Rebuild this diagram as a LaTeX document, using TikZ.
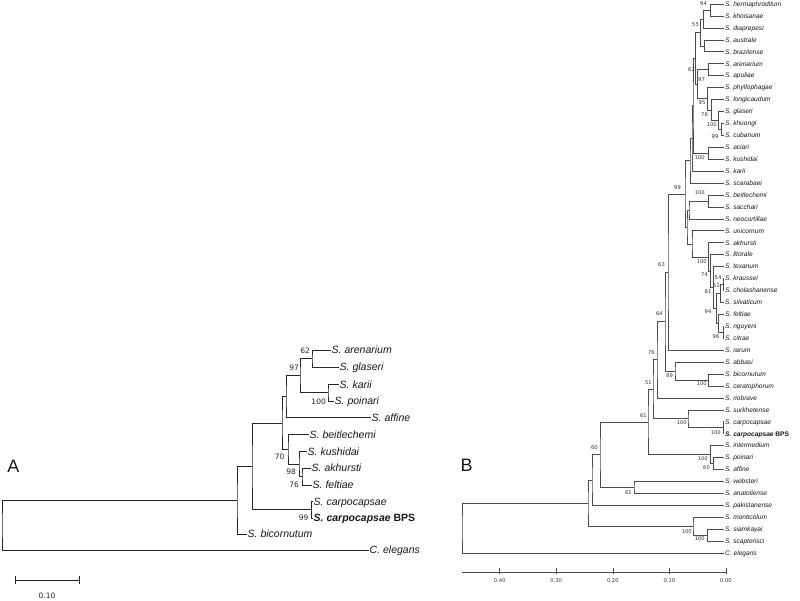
\documentclass[tikz,border=0pt]{standalone}
\usepackage{fontspec}
\setmainfont{Liberation Sans}
\newfontfamily\djv{DejaVu Sans}
\usetikzlibrary{calc}
\newcommand\clade[4]{%
  \coordinate (#1tmp) at ($(#3)!0.5!(#4)$);
  \coordinate (#1) at (#2,0 |- #1tmp);
  \draw[treeline] (#3) -| (#1) |- (#4);
}
\tikzset{
  alin/.style={line width=0.8pt, draw=black!85, line join=miter},
  blin/.style={line width=0.55pt, draw=black!70, line join=miter},
  alab/.style={font=\fontsize{10.5}{12}\selectfont\itshape, inner sep=1pt, anchor=west, text height=7.5pt, text depth=0pt, text=black!90},
  blab/.style={font=\fontsize{6.6}{8}\selectfont\itshape, inner sep=1pt, anchor=west, text height=4.7pt, text depth=0pt, text=black!90},
  asup/.style={font=\djv\fontsize{7.5}{9}\selectfont, inner sep=0pt, anchor=east, text=black!85},
  bsup/.style={font=\djv\fontsize{5.2}{6}\selectfont, inner sep=0pt, anchor=east, text=black!80},
  panel/.style={font=\fontsize{18}{20}\selectfont, inner sep=0pt, text=black!90}
}
\begin{document}
\begin{tikzpicture}[x=1pt,y=-1pt]
\fill[white] (0,0) rectangle (800,600);
\useasboundingbox (0,0) rectangle (800,600);

% ---------------- Panel A ----------------
\begin{scope}[treeline/.style={alin}]
\coordinate (Aar) at (330.5,350);   \node[alab] (tAar) at (Aar) {S. arenarium};
\coordinate (Agl) at (338.5,367);   \node[alab] (tAgl) at (Agl) {S. glaseri};
\coordinate (Aka) at (338.5,384.5); \node[alab] (tAka) at (Aka) {S. karii};
\coordinate (Apo) at (333.5,401);   \node[alab] (tApo) at (Apo) {S. poinari};
\coordinate (Aaf) at (370.5,417.5); \node[alab] (tAaf) at (Aaf) {S. affine};
\coordinate (Abe) at (308.5,434.5); \node[alab] (tAbe) at (Abe) {S. beitlechemi};
\coordinate (Aku) at (306.5,451.5); \node[alab] (tAku) at (Aku) {S. kushidai};
\coordinate (Aak) at (310.5,468);   \node[alab] (tAak) at (Aak) {S. akhursti};
\coordinate (Afe) at (311.5,485);   \node[alab] (tAfe) at (Afe) {S. feltiae};
\coordinate (Aca) at (312.5,501.5); \node[alab] (tAca) at (Aca) {S. carpocapsae};
\coordinate (Abp) at (312.5,518);   \node[alab] (tAbp) at (Abp) {\bfseries S. carpocapsae \upshape BPS};
\coordinate (Abi) at (246.5,534);   \node[alab] (tAbi) at (Abi) {S. bicornutum};
\coordinate (Ael) at (368.5,550);   \node[alab] (tAel) at (Ael) {C. elegans};

\clade{An62}{312}{Aar}{Agl}
\clade{An100}{328}{Aka}{Apo}
\clade{An97}{300}{An62}{An100}
\clade{AnAf}{286}{An97}{Aaf}
\clade{An76}{302}{Aak}{Afe}
\clade{An98}{299}{Aku}{An76}
\clade{An70}{288}{Abe}{An98}
\clade{AnBig}{282}{AnAf}{An70}
\clade{An99}{311.5}{Aca}{Abp}
\clade{AnCarp}{252}{AnBig}{An99}
\clade{AnIn}{237}{AnCarp}{Abi}
\clade{Aroot}{2}{AnIn}{Ael}
\end{scope}

\node[asup] (sA62)  at (310,351)   {62};
\node[asup] (sA97)  at (299,368)   {97};
\node[asup] (sA100) at (326,401.5) {100};
\node[asup] (sA70)  at (284.5,457) {70};
\node[asup] (sA98)  at (296,471.5) {98};
\node[asup] (sA76)  at (299,485)   {76};
\node[asup] (sA99)  at (308.5,518) {99};

\node[panel] (pA) at (13.5,466) {A};

\coordinate (sbL) at (15,580);
\coordinate (sbR) at (79,580);
\draw[alin] (sbL) -- (sbR);
\draw[alin] ([yshift=4pt]sbL) -- ([yshift=-4pt]sbL);
\draw[alin] ([yshift=4pt]sbR) -- ([yshift=-4pt]sbR);
\node[asup,anchor=center] (sbT) at (47,596) {0.10};

% ---------------- Panel B ----------------
\begin{scope}[treeline/.style={blin}]
\foreach \t [count=\i] in {S. hermaphroditum,S. khoisanae,S. diaprepesi,S. australe,S. brazilense,S. arenarium,S. apuliae,S. phyllophagae,S. longicaudum,S. glaseri,S. khuongi,S. cubanum,S. aciari,S. kushidai,S. karii,S. scarabaei,S. beitlechemi,S. sacchari,S. neocurtillae,S. unicornum,S. akhursti,S. litorale,S. texanum,S. kraussei,S. cholashanense,S. silvaticum,S. feltiae,S. nguyeni,S. citrae,S. rarum,S. abbasi,S. bicornutum,S. ceratophorum,S. riobrave,S. surkhetense,S. carpocapsae,{\bfseries S. carpocapsae \upshape BPS},S. intermedium,S. poinari,S. affine,S. websteri,S. anatoliense,S. pakistanense,S. monticolum,S. siamkayai,S. scapterisci,C. elegans}{
  \coordinate (B\i) at (724,{4+11.935*(\i-1)});
  \node[blab] (tB\i) at (B\i) {\t};
}
\clade{N94}{710}{B1}{B2}
\clade{N55}{703}{N94}{B3}
\clade{Naus}{704}{B4}{B5}
\clade{Na1}{700}{N55}{Naus}
\clade{N97}{708}{B6}{B7}
\clade{N99c}{721}{B11}{B12}
\clade{N100g}{718}{B10}{N99c}
\clade{N76b}{711}{B9}{N100g}
\clade{N95}{707}{B8}{N76b}
\clade{Nb1}{697}{N97}{N95}
\clade{N62}{695}{Na1}{Nb1}
\clade{Naci}{708}{B13}{B14}
\clade{Nc1}{693}{N62}{Naci}
\clade{Nc2}{692}{Nc1}{B15}
\clade{NCI}{690}{Nc2}{B16}
\clade{Nbs}{708}{B17}{B18}
\clade{Nbsn}{689}{Nbs}{B19}
\clade{Nk}{723}{B24}{B25}
\clade{Nks}{720}{Nk}{B26}
\clade{Nfn}{723}{B28}{B29}
\clade{Nf}{718}{B27}{Nfn}
\clade{N81}{716}{Nks}{Nf}
\clade{N74}{713}{B23}{N81}
\clade{Nlit}{710}{B22}{N74}
\clade{N100L}{708}{B21}{Nlit}
\clade{Nuni}{692}{B20}{N100L}
\clade{NCII}{687}{Nbsn}{Nuni}
\clade{N99}{685}{NCI}{NCII}
\clade{N63}{668}{N99}{B30}
\clade{Nbic}{708}{B32}{B33}
\clade{N89}{675}{B31}{Nbic}
\clade{N64}{665}{N63}{N89}
\clade{N76}{657}{N64}{B34}
\clade{Ncarp}{723}{B36}{B37}
\clade{Nsurk}{688}{B35}{Ncarp}
\clade{N51}{653}{N76}{Nsurk}
\clade{Npa}{713}{B39}{B40}
\clade{Ninter}{710}{B38}{Npa}
\clade{Nd}{648}{N51}{Ninter}
\clade{Nweb}{634}{B41}{B42}
\clade{Nc}{600}{Nd}{Nweb}
\clade{Nb}{592}{Nc}{B43}
\clade{Nsiam}{707}{B45}{B46}
\clade{Nmont}{693}{B44}{Nsiam}
\clade{Na}{588}{Nb}{Nmont}
\clade{Rb}{462}{Na}{B47}
\end{scope}

% support values, panel B
\node[bsup] (s1)  at (707,4)     {94};
\node[bsup] (s2)  at (699,25)    {55};
\node[bsup] (s3)  at (695,70)    {62};
\node[bsup] (s4)  at (705,80)    {97};
\node[bsup] (s5)  at (705.5,103) {95};
\node[bsup] (s6)  at (708,115)   {76};
\node[bsup] (s7)  at (717,125)   {100};
\node[bsup] (s8)  at (718.5,137) {99};
\node[bsup] (s9)  at (705,158)   {100};
\node[bsup] (s10) at (681,188)   {99};
\node[bsup] (s11) at (705,193)   {100};
\node[bsup] (s12) at (707,262)   {100};
\node[bsup] (s13) at (708,275)   {74};
\node[bsup] (s14) at (721.5,278) {54};
\node[bsup] (s15) at (720,286)   {52};
\node[bsup] (s16) at (711.5,292) {81};
\node[bsup] (s17) at (711.5,312) {94};
\node[bsup] (s18) at (719.5,337) {96};
\node[bsup] (s19) at (665,265)   {63};
\node[bsup] (s20) at (663,314)   {64};
\node[bsup] (s21) at (655,353)   {76};
\node[bsup] (s22) at (673,376)   {89};
\node[bsup] (s23) at (707,384)   {100};
\node[bsup] (s24) at (652,383)   {51};
\node[bsup] (s25) at (687,423)   {100};
\node[bsup] (s26) at (721,433)   {100};
\node[bsup] (s27) at (647,416)   {61};
\node[bsup] (s28) at (708,459)   {100};
\node[bsup] (s29) at (710,468)   {60};
\node[bsup] (s30) at (598,448)   {60};
\node[bsup] (s31) at (632,493)   {61};
\node[bsup] (s32) at (692,532)   {100};
\node[bsup] (s33) at (705,539)   {100};

\node[panel] (pB) at (466.5,465) {B};

% axis, panel B
\coordinate (axL) at (462,572);
\coordinate (axR) at (726,572);
\draw[blin] (axL) -- (axR);
\foreach \v/\lab in {0/0.00,1/0.10,2/0.20,3/0.30,4/0.40}{
  \coordinate (tk\v) at ({726-56.6*\v},572);
  \draw[blin] ([yshift=4pt]tk\v) -- ([yshift=-2pt]tk\v);
  \node[bsup,anchor=center] (tl\v) at ({726-56.6*\v},581) {\lab};
}
\end{tikzpicture}
\end{document}
